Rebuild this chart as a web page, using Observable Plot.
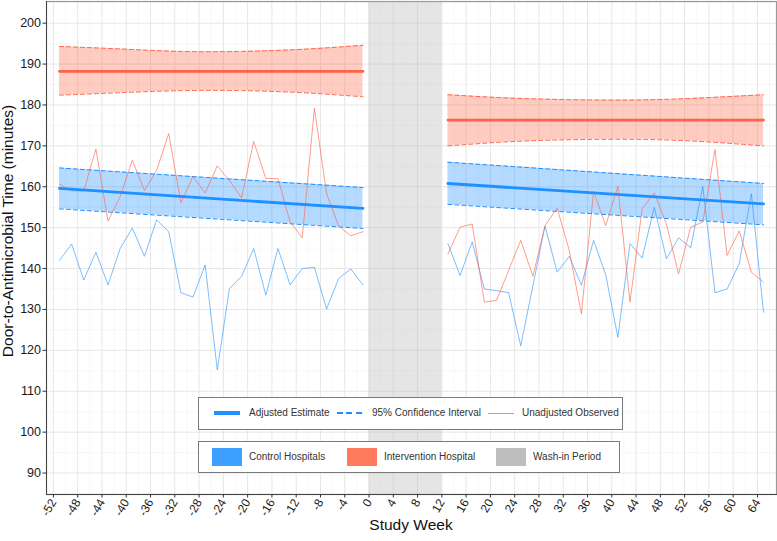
<!DOCTYPE html>
<html><head><meta charset="utf-8">
<script src="https://cdn.jsdelivr.net/npm/d3@7"></script>
<script src="https://cdn.jsdelivr.net/npm/@observablehq/plot@0.6"></script>
<style>
body{margin:0;background:#fff;font-family:"Liberation Sans",Arial,sans-serif;}
#wrap{position:relative;width:777px;height:541px;overflow:hidden;}
.box{position:absolute;border:1px solid #7a7a7a;background:#fff;box-sizing:border-box;}
.txt{position:absolute;font-size:10px;color:#333;white-space:nowrap;line-height:12px;}
.ttl{position:absolute;font-size:15.5px;color:#111;white-space:nowrap;line-height:18px;}
</style></head>
<body><div id="wrap"></div>
<script>
// ---- data ----
const preWeeks = [-51,-49,-47,-45,-43,-41,-39,-37,-35,-33,-31,-29,-27,-25,-23,-21,-19,-17,-15,-13,-11,-9,-7,-5,-3,-1];
const postWeeks = [13,15,17,19,21,23,25,27,29,31,33,35,37,39,41,43,45,47,49,51,53,55,57,59,61,63,65];
const controlPreObs = [142.0,146.0,137.2,144.0,136.0,144.9,149.9,143.0,151.9,149.0,134.1,133.0,140.9,115.2,135.1,138.1,144.9,133.5,144.9,136.0,140.0,140.3,130.1,137.6,139.9,136.0];
const interventionPreObs = [160.6,159.0,159.0,169.2,151.6,157.6,166.5,159.1,164.0,173.0,156.1,162.5,158.5,165.1,161.5,157.3,171.1,162.0,162.0,151.4,147.5,179.2,158.4,150.4,148.0,149.0];
const controlPostObs = [146.1,138.3,146.5,135.0,134.6,134.1,121.1,135.8,150.4,139.1,143.0,135.9,146.9,138.5,123.2,146.1,142.6,155.0,142.4,147.5,145.1,160.1,134.1,135.0,141.2,158.3,129.3];
const interventionPostObs = [143.6,150.1,150.9,131.8,132.2,139.5,146.9,138.1,150.5,154.8,144.4,128.9,158.9,150.5,160.1,131.8,154.6,158.5,150.9,138.7,150.1,151.4,169.1,143.2,149.2,139.1,136.7];

// adjusted estimates (straight fits) at period ends
const preEnds = [-51,-1];
const postEnds = [13,65];
const controlPreAdj = [159.6,154.7];
const controlPreHi = [164.6,159.8];
const controlPreLo = [154.6,149.8];
const controlPostAdj = [160.8,155.8];
const controlPostHi = [166.0,160.8];
const controlPostLo = [155.7,150.7];

// intervention estimates and curved CI
const preCIWeeks = [-51,-41,-31,-21,-11,-1];
const postCIWeeks = [13,23,33,43,53,65];
const interventionPreAdj = [188.2,188.2,188.2,188.2,188.2,188.2];
const interventionPreHi = [194.3,193.7,193.1,193.1,193.6,194.6];
const interventionPreLo = [182.4,183.0,183.5,183.5,183.0,182.0];
const interventionPostAdj = [176.3,176.3,176.3,176.3,176.3,176.3];
const interventionPostHi = [182.5,181.7,181.3,181.2,181.6,182.5];
const interventionPostLo = [170.0,171.0,171.5,171.6,171.2,170.0];

const washIn = [0,12];
const xTicks = [-52,-48,-44,-40,-36,-32,-28,-24,-20,-16,-12,-8,-4,0,4,8,12,16,20,24,28,32,36,40,44,48,52,56,60,64];
const xMinor = [-50,-46,-42,-38,-34,-30,-26,-22,-18,-14,-10,-6,-2,2,6,10,14,18,22,26,30,34,38,42,46,50,54,58,62,66];
const yTicks = [90,100,110,120,130,140,150,160,170,180,190,200];
const yMinor = [85,95,105,115,125,135,145,155,165,175,185,195,205];

const lineLegend = ["Adjusted Estimate","95% Confidence Interval","Unadjusted Observed"];
const fillLegend = ["Control Hospitals","Intervention Hospital","Wash-in Period"];

// ---- styling ----
const BLUE = "#1E90FF", RED = "#FF6347";

const series = (w, v) => w.map((d,i)=>({week:d, v:v[i]}));
const band = (w, lo, mid, hi) => w.map((d,i)=>({week:d, lo:lo[i], mid:mid[i], hi:hi[i]}));

const cPre = band(preEnds, controlPreLo, controlPreAdj, controlPreHi);
const cPost = band(postEnds, controlPostLo, controlPostAdj, controlPostHi);
const iPre = band(preCIWeeks, interventionPreLo, interventionPreAdj, interventionPreHi);
const iPost = band(postCIWeeks, interventionPostLo, interventionPostAdj, interventionPostHi);

function bandMarks(data, col, curve) {
  return [
    Plot.areaY(data, {x:"week", y1:"lo", y2:"hi", fill:col, fillOpacity:0.33, curve}),
    Plot.lineY(data, {x:"week", y:"hi", stroke:col, strokeWidth:1, strokeDasharray:"4,3", curve}),
    Plot.lineY(data, {x:"week", y:"lo", stroke:col, strokeWidth:1, strokeDasharray:"4,3", curve})
  ];
}

const chart = Plot.plot({
  width: 777, height: 541,
  marginLeft: 46, marginRight: 1, marginTop: 1, marginBottom: 47,
  x: {domain: [-53.14, 67.14]},
  y: {domain: [84.75, 205.3]},
  style: {fontFamily: '"Liberation Sans", Arial, sans-serif', background: "#fff", overflow: "visible"},
  marks: [
    Plot.ruleY(yMinor, {stroke:"#f1f1f1", strokeWidth:0.6}),
    Plot.ruleX(xMinor, {stroke:"#f1f1f1", strokeWidth:0.6}),
    Plot.ruleY(yTicks, {stroke:"#e6e6e6", strokeWidth:1}),
    Plot.ruleX(xTicks, {stroke:"#e6e6e6", strokeWidth:1}),
    Plot.rect([washIn], {x1: d => d[0], x2: d => d[1], fill:"#bebebe", fillOpacity:0.4}),
    ...bandMarks(iPre, RED, "natural"),
    ...bandMarks(iPost, RED, "natural"),
    ...bandMarks(cPre, BLUE, "linear"),
    ...bandMarks(cPost, BLUE, "linear"),
    Plot.lineY(series(preWeeks, controlPreObs), {x:"week", y:"v", stroke:BLUE, strokeOpacity:0.65, strokeWidth:0.9}),
    Plot.lineY(series(postWeeks, controlPostObs), {x:"week", y:"v", stroke:BLUE, strokeOpacity:0.65, strokeWidth:0.9}),
    Plot.lineY(series(preWeeks, interventionPreObs), {x:"week", y:"v", stroke:RED, strokeOpacity:0.7, strokeWidth:0.9}),
    Plot.lineY(series(postWeeks, interventionPostObs), {x:"week", y:"v", stroke:RED, strokeOpacity:0.7, strokeWidth:0.9}),
    Plot.lineY(cPre, {x:"week", y:"mid", stroke:BLUE, strokeWidth:2.8}),
    Plot.lineY(cPost, {x:"week", y:"mid", stroke:BLUE, strokeWidth:2.8}),
    Plot.lineY(iPre, {x:"week", y:"mid", stroke:RED, strokeWidth:2.8}),
    Plot.lineY(iPost, {x:"week", y:"mid", stroke:RED, strokeWidth:2.8}),
    Plot.frame({stroke:"#9a9a9a", strokeWidth:1.2}),
    Plot.frame({anchor:"left", stroke:"#444", strokeWidth:1}),
    Plot.frame({anchor:"bottom", stroke:"#444", strokeWidth:1}),
    Plot.axisY({ticks: yTicks, tickSize: 3.5, tickPadding: 2, fontSize: 12.5, label: null, fill:"#1a1a1a", stroke:"#333"}),
    Plot.axisX({ticks: xTicks, tickSize: 3.5, tickPadding: 2, tickRotate: -60, fontSize: 12, label: null,
                tickFormat: d => String(d), fill:"#1a1a1a", stroke:"#333"})
  ]
});

const wrap = document.getElementById("wrap");
wrap.appendChild(chart);

function el(cls, css, text) {
  const d = document.createElement("div");
  d.className = cls;
  Object.assign(d.style, css);
  if (text) d.textContent = text;
  wrap.appendChild(d);
  return d;
}
// axis titles
el("ttl", {left:"0px", top:"0px", transformOrigin:"0 0", transform:"translate(-1px, 231px) rotate(-90deg) translate(-50%, 0)"}, "Door-to-Antimicrobial Time (minutes)");
el("ttl", {left:"411px", top:"516px", transform:"translateX(-50%)"}, "Study Week");

// legend 1: line styles
el("box", {left:"198px", top:"397px", width:"425px", height:"33px"});
el("", {position:"absolute", left:"214px", top:"411px", width:"26px", height:"4px", background:BLUE});
el("txt", {left:"249px", top:"407px"}, lineLegend[0]);
el("", {position:"absolute", left:"337px", top:"412px", width:"25px", height:"2px",
        background:"repeating-linear-gradient(to right, "+BLUE+" 0px, "+BLUE+" 6px, transparent 6px, transparent 9.5px)"});
el("txt", {left:"372px", top:"407px"}, lineLegend[1]);
el("", {position:"absolute", left:"488px", top:"413px", width:"26px", height:"1px", background:BLUE, opacity:0.65});
el("txt", {left:"522px", top:"407px"}, lineLegend[2]);

// legend 2: fills
el("box", {left:"198px", top:"441px", width:"422px", height:"32px"});
el("", {position:"absolute", left:"212px", top:"448px", width:"30px", height:"18px", background:"#3d9fff"});
el("txt", {left:"249px", top:"451px"}, fillLegend[0]);
el("", {position:"absolute", left:"347px", top:"448px", width:"30px", height:"18px", background:"#ff7a5e"});
el("txt", {left:"384px", top:"451px"}, fillLegend[1]);
el("", {position:"absolute", left:"496px", top:"448px", width:"30px", height:"18px", background:"#bebebe"});
el("txt", {left:"533px", top:"451px"}, fillLegend[2]);
</script>
</body></html>
